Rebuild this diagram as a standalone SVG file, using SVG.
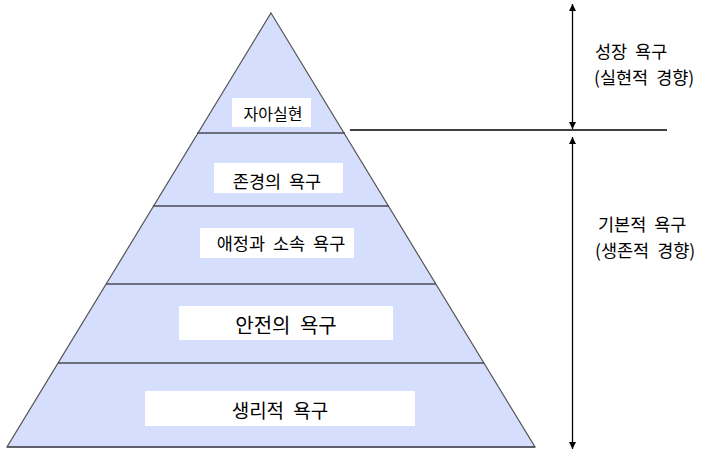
<svg xmlns="http://www.w3.org/2000/svg" width="718" height="451" viewBox="0 0 718 451">
<defs>
<style>
.lbl{fill:#ffffff;stroke:none}
.t{font-family:"Noto Sans CJK KR","Noto Sans",sans-serif;fill:#000;text-anchor:middle;word-spacing:4px}
.ts{font-family:"Noto Sans CJK KR","Noto Sans",sans-serif;font-size:17.5px;fill:#000;word-spacing:4px}
.div{stroke:#4a4a55;stroke-width:1.3}
.ax{stroke:#000;stroke-width:1.3;fill:none}
</style>
<marker id="ah" viewBox="0 0 10 10" refX="10" refY="5" markerWidth="7" markerHeight="9" markerUnits="userSpaceOnUse" orient="auto">
<path d="M0,0 L10,5 L0,10 z" fill="#000"/>
</marker>
</defs>
<rect width="718" height="451" fill="#ffffff"/>
<g id="pyramid">
<polygon points="271,13 535,447 7,447" fill="#d5defc" stroke="#555" stroke-width="1.2"/>
<line class="div" x1="197" y1="133" x2="345" y2="133"/>
<line class="div" x1="153" y1="206" x2="389" y2="206"/>
<line class="div" x1="106" y1="284" x2="436" y2="284"/>
<line class="div" x1="58" y1="363" x2="484" y2="363"/>
<line class="div" x1="7" y1="447" x2="535" y2="447"/>
</g>
<g id="level5">
<rect class="lbl" x="232" y="98" width="79" height="29"/>
<text class="t" x="273" y="120" font-size="16">자아실현</text>
</g>
<g id="level4">
<rect class="lbl" x="214" y="163" width="129" height="30"/>
<text class="t" x="277" y="187.5" font-size="17.5">존경의 욕구</text>
</g>
<g id="level3">
<rect class="lbl" x="200" y="228" width="154" height="30"/>
<text class="t" x="281" y="250" font-size="17.5">애정과 소속 욕구</text>
</g>
<g id="level2">
<rect class="lbl" x="179" y="306" width="214" height="34"/>
<text class="t" x="286" y="333" font-size="20" style="word-spacing:5px">안전의 욕구</text>
</g>
<g id="level1">
<rect class="lbl" x="145" y="391" width="270" height="35"/>
<text class="t" x="280" y="418" font-size="19" style="word-spacing:5px">생리적 욕구</text>
</g>
<g id="connectors">
<line class="ax" x1="350" y1="130" x2="667" y2="130"/>
<line class="ax" x1="572.5" y1="66" x2="572.5" y2="4" marker-end="url(#ah)"/>
<line class="ax" x1="572.5" y1="66" x2="572.5" y2="129" marker-end="url(#ah)"/>
<line class="ax" x1="572.5" y1="300" x2="572.5" y2="137" marker-end="url(#ah)"/>
<line class="ax" x1="572.5" y1="300" x2="572.5" y2="449" marker-end="url(#ah)"/>
</g>
<g id="growth-label">
<text class="ts" x="595" y="58">성장 욕구</text>
<text class="ts" x="594" y="84">(실현적 경향)</text>
</g>
<g id="basic-label">
<text class="ts" x="598" y="231">기본적 욕구</text>
<text class="ts" x="595" y="257">(생존적 경향)</text>
</g>
</svg>
